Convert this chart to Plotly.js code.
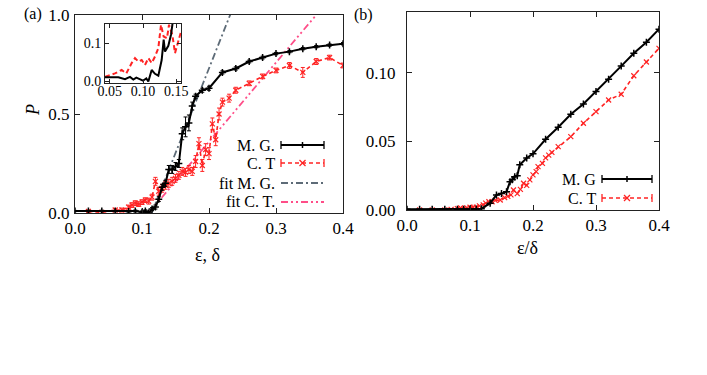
<!DOCTYPE html>
<html>
<head>
<meta charset="utf-8">
<script src="https://cdn.plot.ly/plotly-3.0.1.min.js"></script>
<style>html,body{margin:0;padding:0;background:#fff;}#chart{width:707px;height:375px;}</style>
</head>
<body>
<div id="chart"></div>
<script>
// ---- Panel (a): P vs epsilon/delta ----
var mgX = [0, 0.02, 0.04, 0.06, 0.08, 0.09, 0.1, 0.105, 0.11, 0.115, 0.12, 0.125, 0.13, 0.135, 0.14, 0.145, 0.15, 0.155, 0.16, 0.165, 0.17, 0.175, 0.18, 0.19, 0.2, 0.22, 0.24, 0.26, 0.28, 0.3, 0.32, 0.34, 0.36, 0.38, 0.4];
var mgY = [0.01, 0.01, 0.01, 0.01, 0.008, 0.01, 0.005, 0.01, 0.0, 0.02, 0.03, 0.07, 0.13, 0.15, 0.22, 0.22, 0.235, 0.25, 0.40, 0.435, 0.455, 0.54, 0.59, 0.62, 0.63, 0.71, 0.73, 0.765, 0.785, 0.805, 0.815, 0.83, 0.84, 0.848, 0.855];
var mgErr = [0.003, 0.004, 0.004, 0.004, 0.004, 0.005, 0.005, 0.006, 0.006, 0.008, 0.01, 0.012, 0.015, 0.015, 0.02, 0.02, 0.02, 0.02, 0.03, 0.05, 0.04, 0.02, 0.01, 0.01, 0.01, 0.008, 0.008, 0.007, 0.007, 0.006, 0.006, 0.006, 0.006, 0.006, 0.006];

var ctX = [0.02, 0.04, 0.06, 0.07, 0.08, 0.085, 0.09, 0.095, 0.1, 0.105, 0.11, 0.115, 0.12, 0.125, 0.13, 0.135, 0.14, 0.145, 0.15, 0.155, 0.16, 0.165, 0.17, 0.175, 0.18, 0.185, 0.19, 0.195, 0.2, 0.205, 0.21, 0.215, 0.22, 0.23, 0.24, 0.26, 0.28, 0.3, 0.32, 0.34, 0.36, 0.38, 0.4];
var ctY = [0.008, 0.003, 0.015, 0.015, 0.03, 0.04, 0.05, 0.045, 0.055, 0.065, 0.06, 0.08, 0.16, 0.11, 0.125, 0.14, 0.15, 0.16, 0.175, 0.19, 0.21, 0.205, 0.22, 0.21, 0.26, 0.35, 0.24, 0.32, 0.3, 0.45, 0.37, 0.5, 0.56, 0.58, 0.62, 0.655, 0.69, 0.72, 0.745, 0.71, 0.765, 0.785, 0.745];
var ctErr = [0.006, 0.006, 0.008, 0.01, 0.01, 0.012, 0.012, 0.012, 0.012, 0.012, 0.015, 0.015, 0.02, 0.02, 0.02, 0.02, 0.02, 0.02, 0.02, 0.02, 0.02, 0.02, 0.02, 0.02, 0.03, 0.03, 0.03, 0.03, 0.03, 0.03, 0.03, 0.03, 0.02, 0.02, 0.015, 0.012, 0.012, 0.012, 0.015, 0.025, 0.015, 0.012, 0.012];

var fitMGX = [0.1146, 0.235];
var fitMGY = [0.0, 1.03];
var fitCTX = [0.11, 0.365];
var fitCTY = [0.0, 1.02];

// ---- Inset of panel (a) ----
var inMGX = [0.043, 0.063, 0.073, 0.0805, 0.0855, 0.09, 0.095, 0.1, 0.105, 0.108, 0.113, 0.118, 0.123, 0.128, 0.131, 0.133, 0.138, 0.142, 0.145, 0.15];
var inMGY = [0.011, 0.011, 0.006, 0.012, 0.005, 0.01, 0.006, 0.002, 0.008, 0.0, 0.03, 0.02, 0.015, 0.056, 0.109, 0.078, 0.093, 0.122, 0.16, 0.17];
var inCTX = [0.043, 0.058, 0.068, 0.075, 0.083, 0.088, 0.093, 0.098, 0.103, 0.108, 0.113, 0.118, 0.123, 0.127, 0.131, 0.136, 0.139, 0.144, 0.148, 0.152, 0.157];
var inCTY = [0.012, 0.021, 0.03, 0.021, 0.048, 0.061, 0.052, 0.056, 0.043, 0.061, 0.048, 0.065, 0.087, 0.148, 0.117, 0.113, 0.148, 0.122, 0.074, 0.1, 0.13];

// ---- Panel (b) ----
var bMGX = [0, 0.02, 0.04, 0.06, 0.08, 0.09, 0.1, 0.11, 0.118, 0.132, 0.142, 0.15, 0.158, 0.1635, 0.167, 0.171, 0.175, 0.179, 0.19, 0.2, 0.22, 0.24, 0.26, 0.28, 0.3, 0.32, 0.34, 0.36, 0.38, 0.4];
var bMGY = [0.0005, 0.0005, 0.0005, 0.0005, 0.0005, 0.0005, 0.0005, 0.0008, 0.001, 0.005, 0.011, 0.012, 0.0134, 0.0207, 0.022, 0.0243, 0.025, 0.033, 0.038, 0.041, 0.0516, 0.0604, 0.0699, 0.0774, 0.0864, 0.0954, 0.105, 0.1144, 0.1224, 0.132];
var bCTX = [0.02, 0.04, 0.06, 0.07, 0.08, 0.085, 0.09, 0.095, 0.1, 0.105, 0.11, 0.115, 0.121, 0.125, 0.13, 0.135, 0.14, 0.148, 0.155, 0.16, 0.165, 0.169, 0.175, 0.18, 0.185, 0.19, 0.195, 0.2, 0.205, 0.208, 0.215, 0.22, 0.225, 0.23, 0.24, 0.26, 0.28, 0.3, 0.32, 0.34, 0.36, 0.38, 0.4];
var bCTY = [0.0, 0.0, 0.0, 0.0005, 0.001, 0.0015, 0.001, 0.0015, 0.002, 0.002, 0.002, 0.003, 0.0037, 0.005, 0.006, 0.006, 0.007, 0.0073, 0.009, 0.01, 0.011, 0.0146, 0.012, 0.015, 0.0195, 0.018, 0.022, 0.0256, 0.028, 0.0316, 0.034, 0.038, 0.04, 0.042, 0.0462, 0.0535, 0.0633, 0.0718, 0.0803, 0.0845, 0.098, 0.108, 0.118];

// ---- labels ----
var xTicksA = [0, 0.1, 0.2, 0.3, 0.4];
var xTickTextA = ['0.0', '0.1', '0.2', '0.3', '0.4'];
var yTicksA = [0, 0.5, 1.0];
var yTickTextA = ['0.0', '0.5', '1.0'];
var yTicksB = [0, 0.05, 0.10];
var yTickTextB = ['0.00', '0.05', '0.10'];
var xTicksIn = [0.05, 0.10, 0.15];
var xTickTextIn = ['0.05', '0.10', '0.15'];
var yTicksIn = [0.0, 0.1];
var yTickTextIn = ['0.0', '0.1'];
var legendA = ["M. G.", "C. T", "fit M. G.", "fit C. T."];
var legendB = ["M. G", "C. T"];

var W = 707, H = 375;
function px(x) { return x / W; }
function py(y) { return 1 - y / H; }

var BLACK = '#000000', RED = 'rgb(255,35,35)', GRAY = '#5d6b77', PINK = '#ff4d88';
var serif = 'Liberation Serif';

var traces = [
  {x: fitMGX, y: fitMGY, xaxis: 'x', yaxis: 'y', mode: 'lines', line: {color: GRAY, width: 1.8, dash: '7px,3px,2px,3px'}},
  {x: fitCTX, y: fitCTY, xaxis: 'x', yaxis: 'y', mode: 'lines', line: {color: PINK, width: 1.8, dash: '7px,3px,2px,3px,2px,3px'}},
  {x: ctX, y: ctY, xaxis: 'x', yaxis: 'y', mode: 'lines+markers', line: {color: RED, width: 1.6, dash: '4px,3px'},
   marker: {symbol: 'x-thin', size: 5, line: {color: RED, width: 1.2}},
   error_y: {type: 'data', array: ctErr, visible: true, color: RED, thickness: 1, width: 2}},
  {x: mgX, y: mgY, xaxis: 'x', yaxis: 'y', mode: 'lines+markers', line: {color: BLACK, width: 2},
   marker: {symbol: 'cross-thin', size: 5, line: {color: BLACK, width: 1.5}},
   error_y: {type: 'data', array: mgErr, visible: true, color: BLACK, thickness: 1, width: 2}},
  {x: inCTX, y: inCTY, xaxis: 'x3', yaxis: 'y3', mode: 'lines', line: {color: RED, width: 2, dash: '5px,3px'}},
  {x: inMGX, y: inMGY, xaxis: 'x3', yaxis: 'y3', mode: 'lines', line: {color: BLACK, width: 2}},
  {x: bCTX, y: bCTY, xaxis: 'x2', yaxis: 'y2', mode: 'lines+markers', line: {color: RED, width: 1.6, dash: '4px,3px'},
   marker: {symbol: 'x-thin', size: 5, line: {color: RED, width: 1.2}}},
  {x: bMGX, y: bMGY, xaxis: 'x2', yaxis: 'y2', mode: 'lines+markers', line: {color: BLACK, width: 2},
   marker: {symbol: 'cross-thin', size: 5, line: {color: BLACK, width: 1.5}}}
];

function axisBase(extra, fsize) {
  var a = {showline: true, linecolor: '#222', linewidth: 1, mirror: 'ticks', ticks: 'inside', ticklen: 5,
    tickcolor: '#222', showgrid: false, zeroline: false, fixedrange: true, tickmode: 'array',
    tickfont: {family: serif, size: fsize, color: '#000'}};
  for (var k in extra) a[k] = extra[k];
  return a;
}

var shapes = [];
var annotations = [];

var legYa = [145, 163, 183, 202];
var legStyles = [
  {color: BLACK, width: 2, dash: 'solid', caps: true},
  {color: RED, width: 1.6, dash: '4px,3px', caps: true},
  {color: GRAY, width: 1.8, dash: '7px,3px,2px,3px', caps: false},
  {color: PINK, width: 1.8, dash: '7px,3px,2px,3px,2px,3px', caps: false}
];
function addLegendRow(label, yy, xt, x0, x1, st, mk) {
  annotations.push({xref: 'paper', yref: 'paper', x: px(xt), y: py(yy), xanchor: 'right', yanchor: 'middle',
    text: label, showarrow: false, font: {family: serif, size: 16, color: '#000'}});
  shapes.push({type: 'line', xref: 'paper', yref: 'paper', x0: px(x0), x1: px(x1), y0: py(yy), y1: py(yy),
    line: {color: st.color, width: st.width, dash: st.dash}});
  if (st.caps) {
    [x0, x1].forEach(function (xc) {
      shapes.push({type: 'line', xref: 'paper', yref: 'paper', x0: px(xc), x1: px(xc), y0: py(yy - 4), y1: py(yy + 4),
        line: {color: st.color, width: 1.3}});
    });
    var xm = (x0 + x1) / 2;
    if (mk === 'plus') {
      shapes.push({type: 'line', xref: 'paper', yref: 'paper', x0: px(xm), x1: px(xm), y0: py(yy - 3), y1: py(yy + 3), line: {color: st.color, width: 1.5}});
    } else {
      shapes.push({type: 'line', xref: 'paper', yref: 'paper', x0: px(xm - 3), x1: px(xm + 3), y0: py(yy - 3), y1: py(yy + 3), line: {color: st.color, width: 1.2}});
      shapes.push({type: 'line', xref: 'paper', yref: 'paper', x0: px(xm - 3), x1: px(xm + 3), y0: py(yy + 3), y1: py(yy - 3), line: {color: st.color, width: 1.2}});
    }
  }
}
for (var i = 0; i < legendA.length; i++) addLegendRow(legendA[i], legYa[i], 277, 281, 324, legStyles[i], i === 0 ? 'plus' : 'x');
var legYb = [179, 198];
for (var j = 0; j < legendB.length; j++) addLegendRow(legendB[j], legYb[j], 598, 602, 652, legStyles[j], j === 0 ? 'plus' : 'x');

annotations.push({xref: 'paper', yref: 'paper', x: px(33), y: py(14), text: '(a)', showarrow: false, xanchor: 'center', yanchor: 'middle', font: {family: serif, size: 16, color: '#000'}});
annotations.push({xref: 'paper', yref: 'paper', x: px(363), y: py(15), text: '(b)', showarrow: false, xanchor: 'center', yanchor: 'middle', font: {family: serif, size: 16, color: '#000'}});
annotations.push({xref: 'paper', yref: 'paper', x: px(207), y: py(255), text: 'ε, δ', showarrow: false, xanchor: 'center', yanchor: 'middle', font: {family: serif, size: 18, color: '#000'}});
annotations.push({xref: 'paper', yref: 'paper', x: px(527), y: py(248), text: 'ε/δ', showarrow: false, xanchor: 'center', yanchor: 'middle', font: {family: serif, size: 18, color: '#000'}});
annotations.push({xref: 'paper', yref: 'paper', x: px(33), y: py(110), text: '<i>P</i>', showarrow: false, textangle: -90, xanchor: 'center', yanchor: 'middle', font: {family: serif, size: 18, color: '#000'}});

var layout = {
  width: W, height: H,
  margin: {l: 0, r: 0, t: 0, b: 0},
  font: {family: serif, size: 16, color: '#000'},
  paper_bgcolor: '#fff', plot_bgcolor: 'rgba(0,0,0,0)',
  showlegend: false,
  xaxis: axisBase({domain: [px(75), px(343)], range: [0, 0.4], tickvals: xTicksA, ticktext: xTickTextA, anchor: 'y'}, 17),
  yaxis: axisBase({domain: [py(213), py(15)], range: [0, 1.0], tickvals: yTicksA, ticktext: yTickTextA, anchor: 'x', ticklabelstandoff: 1}, 17),
  xaxis2: axisBase({domain: [px(407), px(659)], range: [0, 0.4], tickvals: xTicksA, ticktext: xTickTextA, anchor: 'y2'}, 17),
  yaxis2: axisBase({domain: [py(210), py(12)], range: [0, 0.1445], tickvals: yTicksB, ticktext: yTickTextB, anchor: 'x2', ticklabelstandoff: 7}, 17),
  xaxis3: axisBase({domain: [px(105), px(181)], range: [0.043, 0.157], tickvals: xTicksIn, ticktext: xTickTextIn, anchor: 'y3', ticklen: 4, ticklabelstandoff: -5}, 14),
  yaxis3: axisBase({domain: [py(83), py(24)], range: [-0.004, 0.150], tickvals: yTicksIn, ticktext: yTickTextIn, anchor: 'x3', ticklen: 4}, 14),
  shapes: shapes,
  annotations: annotations
};

Plotly.newPlot('chart', traces, layout, {staticPlot: true, displayModeBar: false});
</script>
</body>
</html>
